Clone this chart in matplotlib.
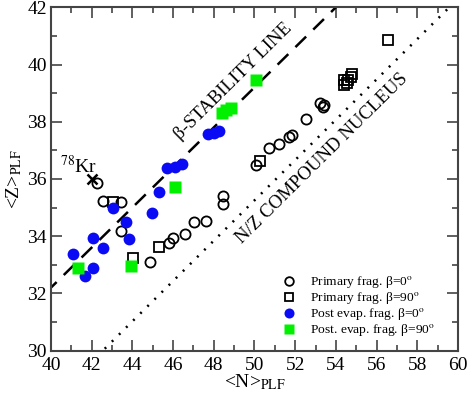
import numpy as np
import matplotlib
matplotlib.use("Agg")
import matplotlib.pyplot as plt
from matplotlib.ticker import MultipleLocator

plt.rcParams["font.family"] = ["Liberation Serif", "DejaVu Serif"]
plt.rcParams["mathtext.fontset"] = "stix"

# primary fragments, beta = 0 deg (open circles)
prim0_n = [42.24, 42.57, 43.42, 43.44, 44.85, 45.8, 45.98, 46.6, 47.05, 47.62,
           48.44, 48.44, 50.07, 50.73, 51.22, 51.71, 51.83, 52.53, 53.22, 53.35, 53.41]
prim0_z = [35.85, 35.23, 35.18, 34.18, 33.1, 33.75, 33.93, 34.07, 34.5, 34.53,
           35.41, 35.12, 36.49, 37.07, 37.21, 37.48, 37.53, 38.09, 38.64, 38.5, 38.58]

# primary fragments, beta = 90 deg (open squares)
prim90_n = [43.04, 44.05, 45.31, 50.28, 54.4, 54.4, 54.6, 54.55, 54.75, 54.8, 56.54]
prim90_z = [35.2, 33.25, 33.61, 36.64, 39.27, 39.47, 39.45, 39.35, 39.55, 39.68, 40.86]

# post evaporation, beta = 0 deg (blue dots)
post0_n = [41.1, 41.67, 42.08, 42.08, 42.57, 43.03, 43.69, 43.85, 44.95, 45.31,
           45.7, 46.1, 46.42, 47.7, 48.0, 48.25]
post0_z = [33.36, 32.62, 32.9, 33.92, 33.57, 34.97, 34.5, 33.9, 34.82, 35.53,
           36.37, 36.4, 36.52, 37.57, 37.6, 37.66]

# post evaporation, beta = 90 deg (green squares)
post90_n = [41.31, 43.92, 46.09, 48.39, 48.6, 48.85, 50.07]
post90_z = [32.87, 32.96, 35.73, 38.3, 38.4, 38.47, 39.46]

# projectile 78Kr
kr_n, kr_z = 42.0, 36.0

# reference lines
stab_slope, stab_icpt = 0.7, 4.2
cn_ratio = 0.705

fig = plt.figure(figsize=(4.69, 3.97), dpi=100)
ax = fig.add_axes([0.1087, 0.1171, 0.8678, 0.8645])

nn = np.array([38.0, 62.0])
ax.plot(nn, stab_slope * nn + stab_icpt, color="black", lw=1.8, dashes=(6, 4))
ax.plot(nn, cn_ratio * nn, color="black", lw=1.8, dashes=(0.8, 3.2))

ax.plot(prim0_n, prim0_z, "o", ms=7.3, mfc="none", mec="black", mew=1.3,
        label=r"Primary frag. β=0$^{\rm o}$")
ax.plot(prim90_n, prim90_z, "s", ms=7, mfc="none", mec="black", mew=1.3,
        label=r"Primary frag. β=90$^{\rm o}$")
ax.plot(post0_n, post0_z, "o", ms=8.5, color="#0a0af5", mec="none",
        label=r"Post evap. frag. β=0$^{\rm o}$")
ax.plot(post90_n, post90_z, "s", ms=8, color="#00f000", mec="none",
        label=r"Post. evap. frag. β=90$^{\rm o}$")
ax.plot(kr_n, kr_z, "x", ms=7, color="black", mew=1.8)

ax.text(40.45, 36.2, r"$^{78}$Kr", fontsize=14)
ax.text(48.95, 39.4, "β-STABILITY LINE", fontsize=13.5, rotation=44.7,
        ha="center", va="center", rotation_mode="anchor")
ax.text(53.3, 36.7, "N/Z COMPOUND NUCLEUS", fontsize=13.5, rotation=44.7,
        ha="center", va="center", rotation_mode="anchor")

ax.set_xlim(40, 60)
ax.set_ylim(30, 42)
ax.xaxis.set_major_locator(MultipleLocator(2))
ax.xaxis.set_minor_locator(MultipleLocator(1))
ax.yaxis.set_major_locator(MultipleLocator(2))
ax.yaxis.set_minor_locator(MultipleLocator(1))
ax.tick_params(which="both", direction="in", top=True, right=True,
               labelsize=14, width=1.2, color="#444444")
ax.tick_params(which="major", length=8, pad=3)
ax.tick_params(which="minor", length=4)
ax.tick_params(axis="x", which="major", pad=4.5)
for sp in ax.spines.values():
    sp.set_linewidth(1.5)
    sp.set_color("#444444")

ax.set_xlabel(r"<N>$_{\rm PLF}$", fontsize=14, labelpad=-1)
ax.set_ylabel(r"<Z>$_{\rm PLF}$", fontsize=14, labelpad=2)

ax.legend(loc="lower right", frameon=False, fontsize=9.7, handletextpad=0.5,
          labelspacing=0.0, borderaxespad=0.0, borderpad=0.0,
          markerscale=0.85, handlelength=2.1,
          bbox_to_anchor=(0.945, 0.035))

fig.savefig("out.png", dpi=100)
